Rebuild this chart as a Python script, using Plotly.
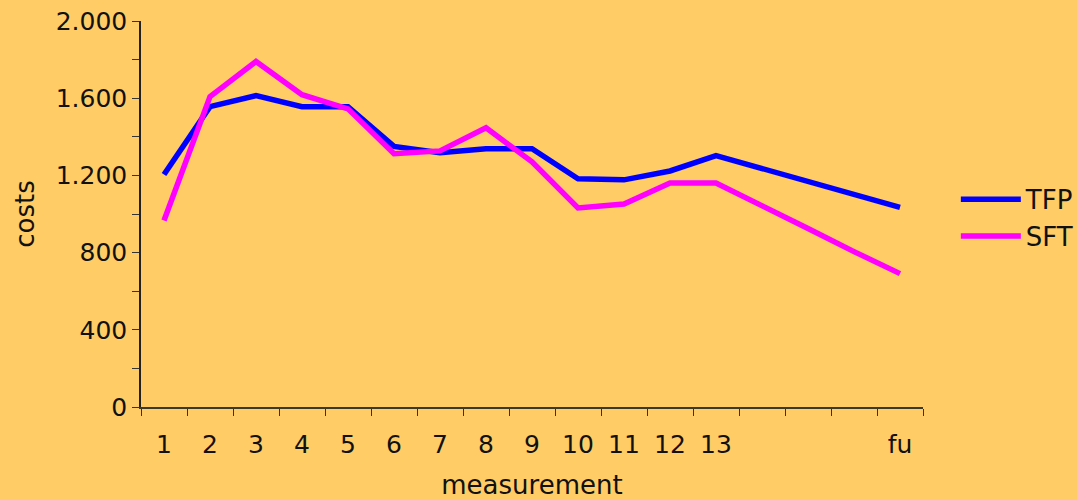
import plotly.graph_objects as go

positions = list(range(1, 18))
categories = ["1", "2", "3", "4", "5", "6", "7", "8", "9", "10", "11", "12", "13", "", "", "", "fu"]
tfp = [1205, 1556, 1613, 1556, 1556, 1350, 1317, 1338, 1338, 1182, 1177, 1223, 1303, 1236, 1164, 1101, 1034]
sft = [966, 1608, 1790, 1618, 1545, 1312, 1327, 1447, 1270, 1031, 1052, 1161, 1161, 1039, 925, 805, 691]
y_tickvals = [0, 400, 800, 1200, 1600, 2000]
y_ticktext = ["0", "400", "800", "1.200", "1.600", "2.000"]

BG = "#FFCC66"
FONT = "DejaVu Sans"

fig = go.Figure()
fig.add_trace(go.Scatter(x=positions, y=tfp, mode="lines", name="TFP",
                         line=dict(color="#0000FF", width=5.5)))
fig.add_trace(go.Scatter(x=positions, y=sft, mode="lines", name="SFT",
                         line=dict(color="#FF00FF", width=5.5)))

fig.update_layout(
    width=1077, height=500,
    paper_bgcolor=BG, plot_bgcolor=BG,
    margin=dict(l=141, r=154, t=21, b=93, autoexpand=False),
    font=dict(family=FONT, size=25, color="#111111"),
    showlegend=True,
    legend=dict(x=1.042, y=0.49, xanchor="left", yanchor="middle",
                bgcolor="rgba(0,0,0,0)", font=dict(size=26, family=FONT),
                tracegroupgap=0, itemwidth=60),
)

fig.update_xaxes(
    range=[0.5, 17.5], automargin=False,
    tickvals=positions, ticktext=categories,
    ticks="", ticklabelstandoff=14,
    showgrid=False, zeroline=False,
    showline=True, linecolor="#3a3a2a", linewidth=2,
    tickfont=dict(size=25, family=FONT),
    minor=dict(tickvals=[p + 0.5 for p in range(0, 18)], ticks="outside",
               ticklen=7, tickcolor="#333333", tickwidth=1, showgrid=False),
    title=dict(text="measurement", font=dict(size=26, family=FONT), standoff=18),
)

fig.update_yaxes(
    range=[0, 2000], automargin=False,
    tickvals=y_tickvals, ticktext=y_ticktext,
    ticks="outside", ticklen=7, tickcolor="#333333", tickwidth=1,
    showgrid=False, zeroline=False,
    showline=True, linecolor="#222222", linewidth=1.5,
    tickfont=dict(size=25, family=FONT),
    minor=dict(tickvals=list(range(200, 2000, 400)), ticks="outside",
               ticklen=7, tickcolor="#333333", tickwidth=1, showgrid=False),
    title=dict(text="costs", font=dict(size=26, family=FONT), standoff=14),
)

fig.write_html("out.html")
